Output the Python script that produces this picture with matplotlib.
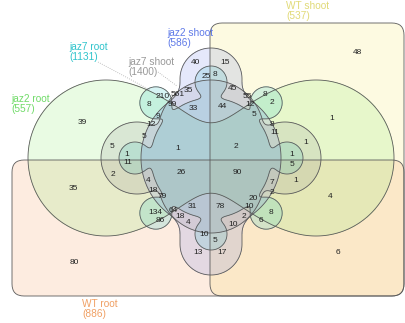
import numpy as np
import matplotlib
matplotlib.use('Agg')
import matplotlib.pyplot as plt
from matplotlib.patches import FancyBboxPatch

# set names / totals
names = ['jaz2 root', 'jaz7 root', 'jaz7 shoot', 'jaz2 shoot', 'WT shoot', 'WT root']
totals = [557, 1131, 1400, 586, 537, 886]
label_colors = ['#70db68', '#30c4cc', '#999999', '#5f7ae8', '#e1da78', '#f0a064']
fill_colors = ['#91eb73', '#33cccc', '#999999', '#7d8ceb', '#f5e96a', '#f5a064']

# region counts (one per region)
counts = [39, 40, 1, 5, 1, 5, 12, 9, 8, 210, 561, 35, 99, 33, 25,
          48, 15, 8, 44, 45, 55, 8, 12, 2, 5, 8, 11, 1, 1, 1, 2,
          80, 35, 2, 11, 4, 18, 79, 134, 86, 64, 18, 4, 31, 26, 13, 10,
          6, 4, 5, 1, 90, 7, 2, 20, 10, 8, 6, 2, 10, 78, 5, 17]
# where each count is written (pixels)
count_pos = [(82, 123), (196, 63), (178, 148), (112, 146), (127, 155), (144, 136), (151, 125),
             (158, 117), (149, 104), (163, 96), (178, 95), (188, 90), (172, 105), (193, 109), (206, 76),
             (357, 53), (225, 62), (215, 75), (222, 107), (233, 88), (247, 96), (265, 95), (250, 105),
             (272, 103), (254, 115), (272, 124), (275, 133), (332, 118), (306, 143), (292, 155), (236, 147),
             (74, 262), (73, 188), (113, 174), (128, 162), (148, 180), (153, 190), (162, 197), (155, 212),
             (160, 221), (173, 211), (180, 217), (188, 223), (192, 207), (181, 172), (198, 252), (204, 235),
             (338, 253), (330, 197), (292, 164), (296, 180), (237, 173), (272, 183), (272, 192), (253, 198),
             (249, 207), (271, 212), (261, 220), (244, 217), (233, 225), (220, 207), (215, 241), (222, 252)]

W, H = 406, 323
cx, cy = 211, 158

fig = plt.figure(figsize=(W / 100, H / 100), dpi=100)
ax = fig.add_axes([0, 0, 1, 1])
ax.set_xlim(0, W)
ax.set_ylim(H, 0)
ax.axis('off')

edge = '#5a5a5a'
lw = 0.6

# WT shoot / WT root rounded rectangles
rects = [(210, 23, 194, 273, fill_colors[4]), (12, 160, 392, 136, fill_colors[5])]
for x, y, w, h, col in rects:
    ax.add_patch(FancyBboxPatch((x, y), w, h, boxstyle='round,pad=0,rounding_size=12',
                                fc=col, alpha=0.2, ec='none'))

xs = np.linspace(0, W, 2 * W + 1)
ys = np.linspace(0, H, 2 * H + 1)
X, Y = np.meshgrid(xs, ys)


def disk(x0, y0, r):
    return np.hypot(X - x0, Y - y0) - r


def smin(a, b, k):
    h = np.clip(0.5 + 0.5 * (b - a) / k, 0, 1)
    return b * (1 - h) + a * h - k * h * (1 - h)


def stadium(x0, y1, y2, r):
    yy = np.clip(Y, y1, y2)
    return np.hypot(X - x0, Y - yy) - r


# jaz2 root: two side lobes joined in the middle
f_g = smin(disk(cx - 105, cy, 78), disk(cx + 105, cy, 78), 131)

# jaz2 shoot: vertical stadium plus middle disk
f_b = smin(stadium(cx, 79, 244, 31), disk(cx, cy, 70), 12)

# jaz7 root: core with 8 small lobes
f_c = disk(cx, cy, 60)
for i in range(8):
    a = np.radians(45 * i)
    d = 76 if i % 2 == 0 else 78
    f_c = smin(f_c, disk(cx + d * np.cos(a), cy - d * np.sin(a), 16), 8)

# jaz7 shoot: 4 lobes
f_y = smin(disk(cx, 133, 53), disk(cx, 180, 53), 10)
f_y = smin(f_y, disk(cx - 74, cy, 36), 10)
f_y = smin(f_y, disk(cx + 74, cy, 36), 10)

shapes = [f_g, f_c, f_y, f_b]
for f, col in zip(shapes, fill_colors[:4]):
    ax.contourf(X, Y, f, levels=[-1e9, 0], colors=[col], alpha=0.2)
for f in shapes:
    ax.contour(X, Y, f, levels=[0], colors=[edge], linewidths=lw)

for x, y, w, h, col in rects:
    ax.add_patch(FancyBboxPatch((x, y), w, h, boxstyle='round,pad=0,rounding_size=12',
                                fc='none', ec=edge, lw=lw))

font = 'Liberation Sans'
for n, (x, y) in zip(counts, count_pos):
    ax.text(x, y, str(n), ha='center', va='center', fontsize=6, family=font, color='#222222')

# set titles
title_pos = [(11, 99), (69, 47), (128, 62), (167, 33), (286, 6), (82, 304)]
for name, tot, col, (x, y) in zip(names, totals, label_colors, title_pos):
    ax.text(x, y, name, ha='left', va='center', fontsize=7.3, family=font, color=col)
    ax.text(x, y + 10, '(%d)' % tot, ha='left', va='center', fontsize=7.3, family=font, color=col)

# dotted leader lines from the jaz7 labels
ax.plot([98, 150], [62, 90], ls=':', color='#aaaaaa', lw=0.6)
ax.plot([158, 177], [72, 86], ls=':', color='#aaaaaa', lw=0.6)

fig.savefig('out.png', dpi=100)
